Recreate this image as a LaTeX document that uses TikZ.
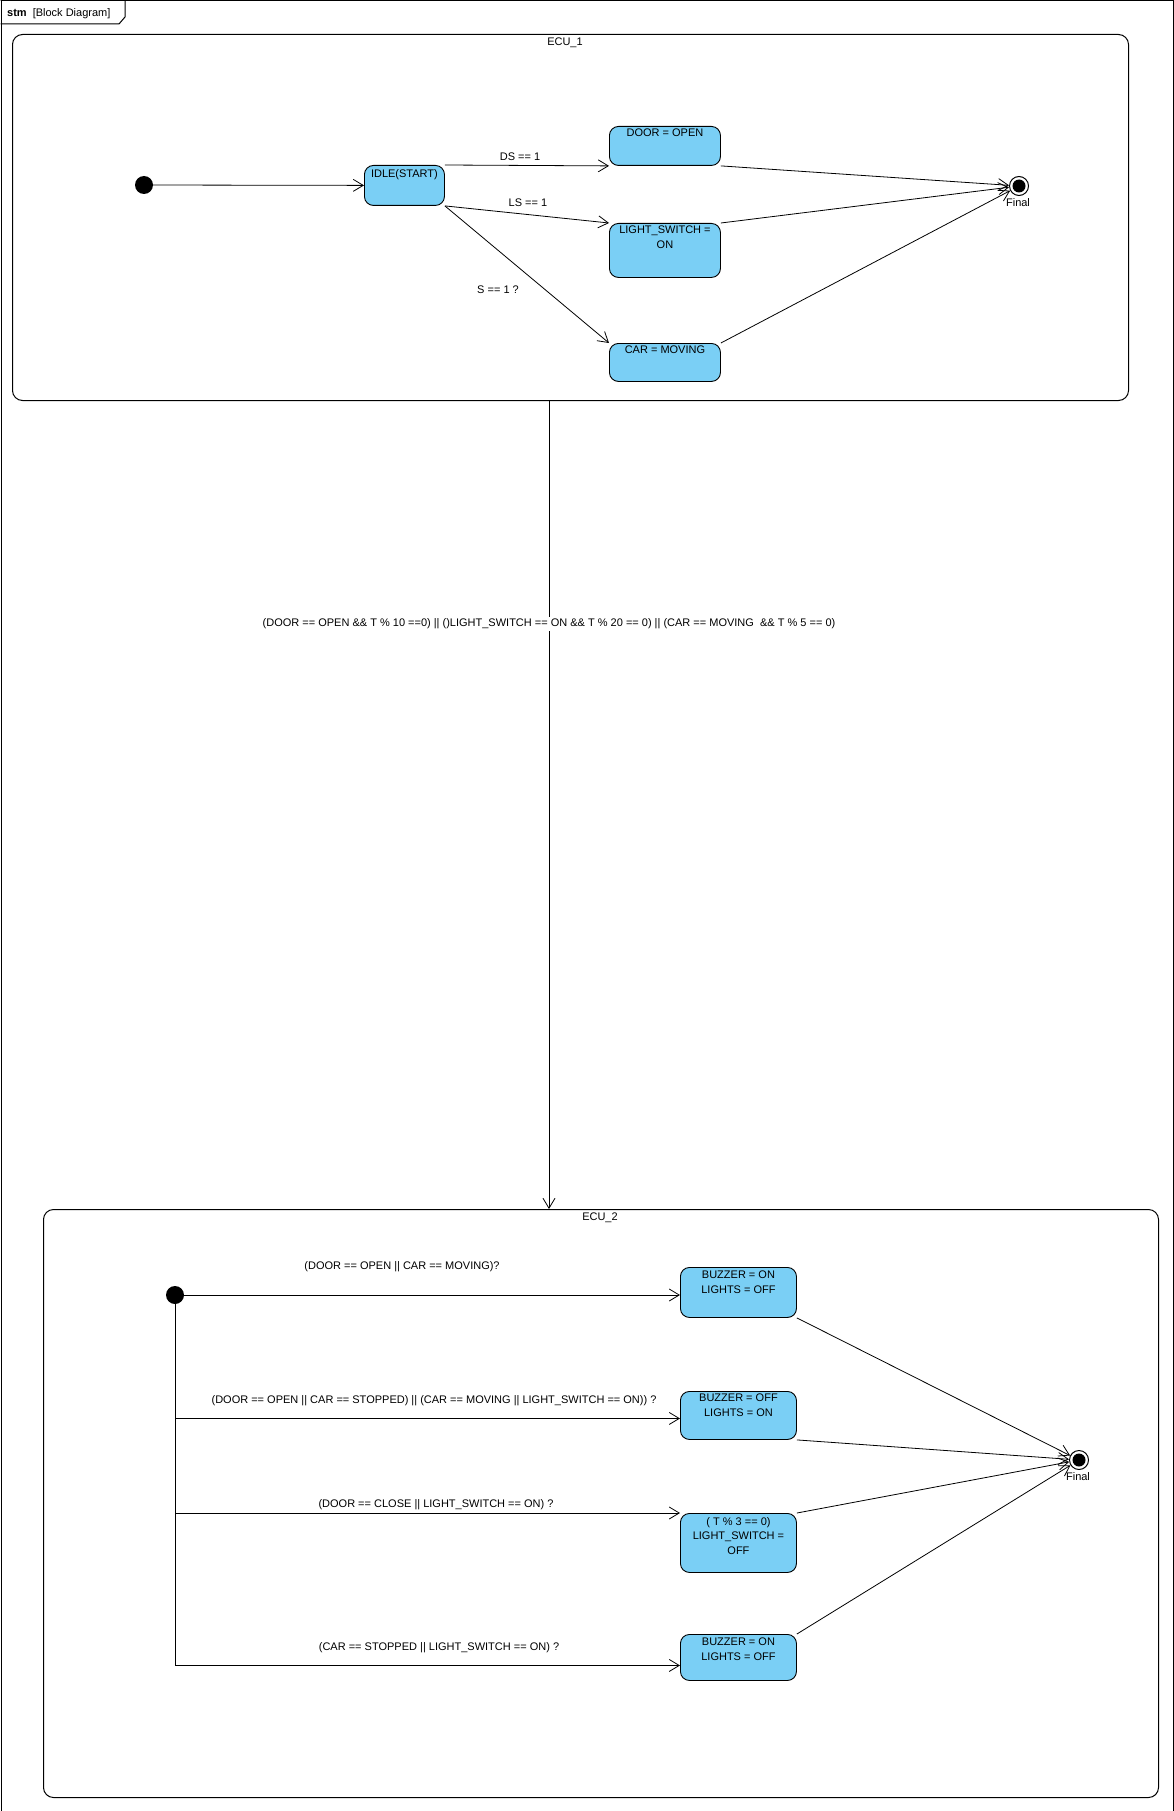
\documentclass[tikz,border=0pt]{standalone}
\usepackage{fontspec}
\setmainfont{Liberation Sans}
\usetikzlibrary{arrows.meta}
\definecolor{stateblue}{RGB}{122,207,245}
\begin{document}
\begin{tikzpicture}[x=1pt,y=-1pt,
  every node/.style={font=\fontsize{11pt}{14.5pt}\selectfont, inner sep=0pt},
  frameline/.style={draw=black, line width=1pt},
  region/.style={draw=black, line width=1pt, rounded corners=10pt, anchor=north west},
  statebox/.style={draw=black, line width=0.9pt, fill=stateblue, rounded corners=9pt, anchor=north west},
  statetext/.style={anchor=north, align=center},
  initst/.style={circle, fill=black, minimum size=18pt},
  finalst/.style={circle, draw=black, line width=1pt, fill=white, minimum size=19pt},
  tr/.style={line width=0.8pt, -{Straight Barb[length=10pt,width=12pt,line width=0.8pt]}},
  guard/.style={anchor=center}
]
\useasboundingbox (0,0) rectangle (1173,1811);
% outer frame and tab
\node[frameline, anchor=north west, minimum width=1172pt, minimum height=1810pt] (frame) at (0.5,0.5) {};
\draw[frameline] (0.5,0.5) -- (125,0.5) -- (125,17) -- (119,24) -- (0.5,24);
\node[anchor=west] (title) at (7,14) {\textbf{stm}\hspace{6pt}[Block Diagram]};

% ===== ECU_1 =====
\node[region, minimum width=1116pt, minimum height=366pt] (ecu1) at (12,34) {};
\node (ecu1l) at (565,43) {ECU\_1};

\node[initst] (init1) at (144,185) {};
\node[statebox, minimum width=80pt, minimum height=40pt] (idle) at (364,165) {};
\node[statetext] (idlet) at ([yshift=-4pt]idle.north) {IDLE(START)};
\node[statebox, minimum width=111pt, minimum height=39pt] (door) at (609,126) {};
\node[statetext] (doort) at ([yshift=-3pt]door.north) {DOOR = OPEN};
\node[statebox, minimum width=111pt, minimum height=54pt] (light) at (609,223) {};
\node[statetext] (lightt) at ([yshift=-3pt]light.north) {LIGHT\_SWITCH =\\ON};
\node[statebox, minimum width=111pt, minimum height=38pt] (car) at (609,343) {};
\node[statetext] (cart) at ([yshift=-3pt]car.north) {CAR = MOVING};

\node[finalst] (fin1) at (1019,186) {};
\fill (fin1.center) circle (6.5pt);
\node (fin1l) at (1018,203) {Final};

\draw[tr] (init1) -- (idle);
\draw[tr] (idle.north east) -- (door.south west);
\draw[tr] (idle.south east) -- (light.north west);
\draw[tr] (idle.south east) -- (car.north west);
\draw[tr] (door.south east) -- (fin1);
\draw[tr] (light.north east) -- (fin1);
\draw[tr] (car.north east) -- (fin1);

\node[guard] (g1) at (520,157) {DS == 1};
\node[guard] (g2) at (528,203) {LS == 1};
\node[guard] (g3) at (498,290) {S == 1 ?};

% ===== ECU_2 =====
\node[region, minimum width=1115pt, minimum height=588pt] (ecu2) at (43,1209) {};
\node (ecu2l) at (600,1218) {ECU\_2};

\coordinate (tx) at (549,0);
\draw[tr] (ecu1.south -| tx) -- (ecu2.north -| tx);
\node[guard, fill=white, inner ysep=2pt] (bigguard) at (549,624) {(DOOR == OPEN \&\& T \% 10 ==0) || ()LIGHT\_SWITCH == ON \&\& T \% 20 == 0) || (CAR == MOVING\ \ \&\& T \% 5 == 0)};

\node[initst] (init2) at (175,1295) {};
\node[statebox, minimum width=116pt, minimum height=50pt] (b1) at (680,1267) {};
\node[statetext] (b1t) at ([yshift=-4pt]b1.north) {BUZZER = ON\\LIGHTS = OFF};
\node[statebox, minimum width=116pt, minimum height=48pt] (b2) at (680,1391) {};
\node[statetext] (b2t) at ([yshift=-3pt]b2.north) {BUZZER = OFF\\LIGHTS = ON};
\node[statebox, minimum width=116pt, minimum height=59pt] (b3) at (680,1513) {};
\node[statetext] (b3t) at ([yshift=-4pt]b3.north) {( T \% 3 == 0)\\LIGHT\_SWITCH =\\OFF};
\node[statebox, minimum width=116pt, minimum height=46pt] (b4) at (680,1634) {};
\node[statetext] (b4t) at ([yshift=-4pt]b4.north) {BUZZER = ON\\LIGHTS = OFF};

\node[finalst] (fin2) at (1079,1460) {};
\fill (fin2.center) circle (6.5pt);
\node (fin2l) at (1078,1477) {Final};

\draw[tr] (init2) -- (init2 -| b1.west);
\draw[tr] (init2) |- ([yshift=-3pt]b2.west);
\draw[tr] (init2) |- (b3.north west);
\draw[tr] (init2) |- ([yshift=-8pt]b4.west);
\draw[tr] (b1.south east) -- (fin2);
\draw[tr] (b2.south east) -- (fin2);
\draw[tr] (b3.north east) -- (fin2);
\draw[tr] (b4.north east) -- (fin2);

\node[guard] (h1) at (402,1267) {(DOOR == OPEN || CAR == MOVING)?};
\node[guard] (h2) at (434,1401) {(DOOR == OPEN || CAR == STOPPED) || (CAR == MOVING || LIGHT\_SWITCH == ON)) ?};
\node[guard] (h3) at (436,1505) {(DOOR == CLOSE || LIGHT\_SWITCH == ON) ?};
\node[guard] (h4) at (439,1648) {(CAR == STOPPED || LIGHT\_SWITCH == ON) ?};
\end{tikzpicture}
\end{document}
